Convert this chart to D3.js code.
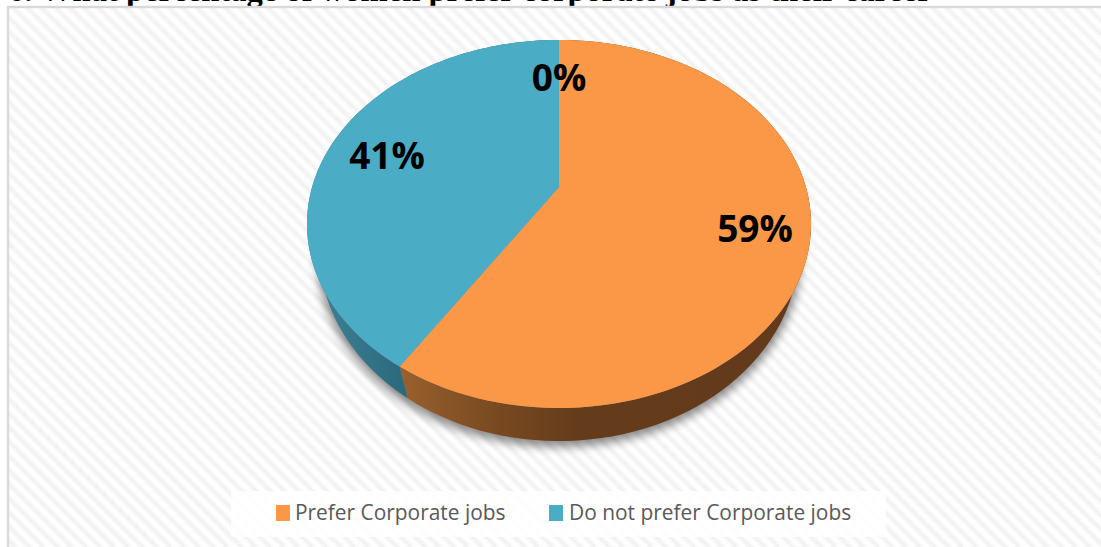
<!DOCTYPE html>
<html><head><meta charset="utf-8">
<script src="https://cdn.jsdelivr.net/npm/d3@7/dist/d3.min.js"></script>
<style>html,body{margin:0;padding:0;background:#fff;overflow:hidden}svg{display:block}</style>
</head><body><svg id="c" width="1101" height="547"></svg>
<script>
const titleText = "6. What percentage of women prefer corporate jobs as their career";
const categories = ["Prefer Corporate jobs", "Do not prefer Corporate jobs", "Other"];
const values = [59, 41, 0];
const labels = ["59%", "41%", "0%"];
const legendCount = 2;
const topColors = ["#fb9847", "#4bacc6", "#9bbb59"];

const W = 1101, H = 547;
const svg = d3.select("#c");
const defs = svg.append("defs");

// Background hatch
const pw = 10;
const pat = defs.append("pattern").attr("id","hatch").attr("patternUnits","userSpaceOnUse")
  .attr("width",pw).attr("height",pw).attr("patternTransform","rotate(-45)");
pat.append("rect").attr("width",pw).attr("height",pw).attr("fill","#ffffff");
pat.append("rect").attr("x",1).attr("width",2).attr("height",pw).attr("fill","#f8f8f8");
pat.append("rect").attr("x",3).attr("width",2).attr("height",pw).attr("fill","#f1f1f1");
pat.append("rect").attr("x",5).attr("width",2).attr("height",pw).attr("fill","#f8f8f8");

svg.append("rect").attr("width",W).attr("height",H).attr("fill","#fff");
svg.append("text").text(titleText).attr("x",8).attr("y",1)
  .attr("font-family","'Liberation Serif'").attr("font-weight","bold").attr("font-size",32.6).attr("fill","#000");
svg.append("rect").attr("x",8).attr("y",7).attr("width",W).attr("height",H).attr("fill","url(#hatch)")
  .attr("stroke","#d9d9d9").attr("stroke-width",2.4);

// Perspective projection of the pie disc
const cx = 559, apexY = 187, persp = 0.201, ax = 246.9, by = 176.6;
const project = (ang, r=1) => {
  const u = Math.sin(ang)*r, v = -Math.cos(ang)*r, d = 1 - persp*v;
  return [cx + ax*u/d, apexY + by*v/d];
};
const lowerCy = 251, topCy = 224, lowerSx = 0.95, lowerSy = 1.033;
const lower = ([x,y]) => [cx + (x-cx)*lowerSx, lowerCy + (y-topCy)*lowerSy];

const arcs = d3.pie().sort(null).value(d=>d)(values);
const rim = (a0,a1) => d3.range(0,101).map(i => project(a0+(a1-a0)*i/100));
const line = d3.line();

// Shadow
defs.append("filter").attr("id","blur").attr("x","-20%").attr("y","-20%").attr("width","140%").attr("height","140%")
  .append("feGaussianBlur").attr("stdDeviation",5);
const whole = rim(0,2*Math.PI).map(lower);
svg.append("path").attr("d",line(whole)+"Z").attr("fill","#000").attr("stroke","#000").attr("stroke-width",6)
  .attr("opacity",0.45).attr("transform","translate(0,3)").attr("filter","url(#blur)");

// Side gradients
const sideStops = [
  [[0,"#98602c"],[0.2,"#7c4c22"],[0.42,"#653c1b"],[1,"#623a1c"]],
  [[0,"#3f8299"],[0.6,"#327388"],[1,"#2a6679"]],
  [[0,"#6f8840"],[1,"#6f8840"]]
];
const gradDomain = [[403,811],[307,412],[559,560]];
sideStops.forEach((stops,i)=>{
  const g = defs.append("linearGradient").attr("id","side"+i).attr("gradientUnits","userSpaceOnUse")
    .attr("x1",gradDomain[i][0]).attr("x2",gradDomain[i][1]).attr("y1",0).attr("y2",0);
  stops.forEach(s=>g.append("stop").attr("offset",s[0]).attr("stop-color",s[1]));
});

// Sides
svg.append("g").selectAll("path").data(arcs).join("path")
  .attr("d",d=>{
    const r = rim(d.startAngle,d.endAngle);
    return line(r.concat(r.slice().reverse().map(lower)))+"Z";
  })
  .attr("fill",(d,i)=>`url(#side${i})`);

// Tops
svg.append("g").selectAll("path").data(arcs).join("path")
  .attr("d",d=>line([[cx,apexY]].concat(rim(d.startAngle,d.endAngle)))+"Z")
  .attr("fill",(d,i)=>topColors[i]);

// Data labels
const labelPos = [[755,227],[387,154],[559,76]];
svg.append("g").selectAll("text").data(labels).join("text")
  .text(d=>d)
  .attr("x",(d,i)=>labelPos[i][0]).attr("y",(d,i)=>labelPos[i][1])
  .attr("text-anchor","middle").attr("dominant-baseline","central")
  .attr("font-family","'Open Sans'").attr("font-weight","bold").attr("font-size",37).attr("fill","#000");

// Legend
svg.append("rect").attr("x",231).attr("y",491).attr("width",655).attr("height",46).attr("fill","#fff").attr("opacity",0.85);
const legendX = [[276,295],[549,569]];
const lg = svg.append("g").selectAll("g").data(categories.slice(0,legendCount)).join("g");
lg.append("rect").attr("x",(d,i)=>legendX[i][0]).attr("y",505).attr("width",14).attr("height",16)
  .attr("fill",(d,i)=>topColors[i]);
lg.append("text").text(d=>d).attr("x",(d,i)=>legendX[i][1]).attr("y",520)
  .attr("font-family","'Open Sans'").attr("font-size",20.9).attr("fill","#595959");
</script></body></html>
